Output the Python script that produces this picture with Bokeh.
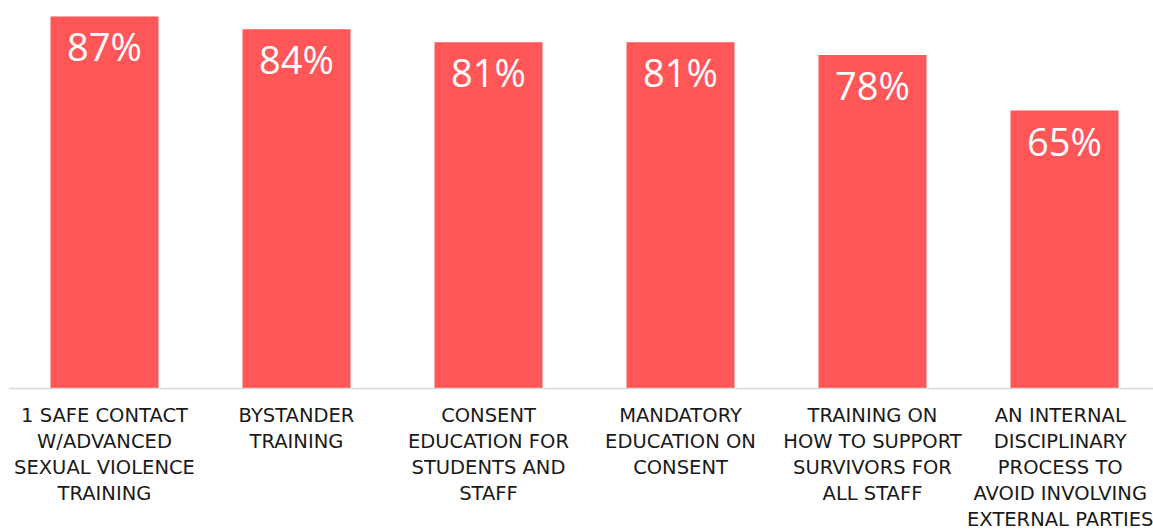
from bokeh.plotting import figure
from bokeh.models import Range1d, FixedTicker, ColumnDataSource
from bokeh.embed import file_html
from bokeh.resources import INLINE
from bokeh.core.properties import value

categories = [
    "1 SAFE CONTACT\nW/ADVANCED\nSEXUAL VIOLENCE\nTRAINING",
    "BYSTANDER\nTRAINING",
    "CONSENT\nEDUCATION FOR\nSTUDENTS AND\nSTAFF",
    "MANDATORY\nEDUCATION ON\nCONSENT",
    "TRAINING ON\nHOW TO SUPPORT\nSURVIVORS FOR\nALL STAFF",
    "AN INTERNAL\nDISCIPLINARY\nPROCESS TO\nAVOID INVOLVING\nEXTERNAL PARTIES",
]
values = [87, 84, 81, 81, 78, 65]
labels = [f"{v}%" for v in values]

xs = list(range(len(categories)))
src = ColumnDataSource(dict(x=xs, top=values, label=labels))

W, H = 1153, 529
LEFT = 8
PX_PER_UNIT = 4.276
BASE = 388
p = figure(width=W, height=H, output_backend="svg", toolbar_location=None,
           x_range=Range1d(-0.5, -0.5 + (W - LEFT) / 192.0),
           y_range=Range1d(-(H - BASE) / PX_PER_UNIT, BASE / PX_PER_UNIT),
           min_border_left=LEFT, min_border_right=0, min_border_top=0, min_border_bottom=0)
p.outline_line_color = None
p.xgrid.visible = False
p.ygrid.visible = False
p.yaxis.visible = False

p.vbar(x="x", top="top", width=0.5625, bottom=0, source=src,
       fill_color="#FF5757", line_color=None)

p.text(x="x", y="top", text="label", source=src, text_color="white",
       text_font=value("Open Sans"), text_font_size="38px",
       text_align="center", text_baseline="top", y_offset=4)

ax = p.xaxis[0]
ax.fixed_location = 0
ax.ticker = FixedTicker(ticks=xs)
ax.major_label_overrides = {i: c for i, c in zip(xs, categories)}
ax.axis_line_color = "#D9D9D9"
ax.axis_line_width = 1.5
ax.major_tick_line_color = None
ax.minor_tick_line_color = None
ax.major_label_text_font = "DejaVu Sans"
ax.major_label_text_font_size = "19.5px"
ax.major_label_text_color = "#1a1a1a"
ax.major_label_text_line_height = 1.134
ax.major_label_standoff = 9

open("out.html", "w").write(file_html(p, INLINE))
